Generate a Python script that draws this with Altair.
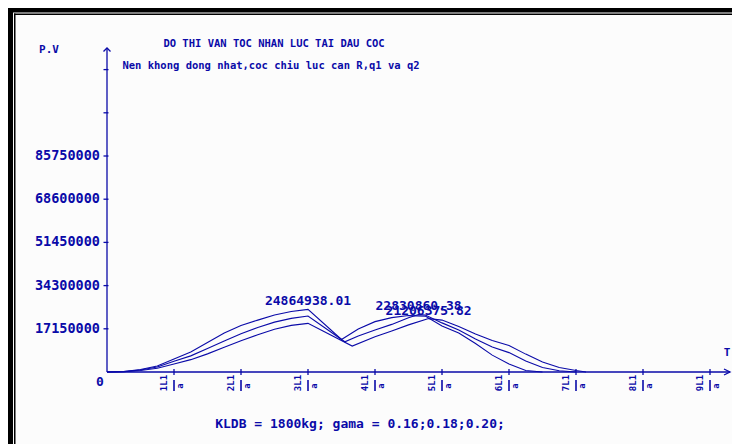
import altair as alt
import pandas as pd

# ---- data (T in units of L1/a, P.V values) ----
T_A = [0, 0.25, 0.5, 0.75, 1.0, 1.25, 1.5, 1.75, 2.0, 2.25, 2.5, 2.75, 3.0, 3.5, 3.75, 4.0, 4.25, 4.5, 4.75, 5.0, 5.25, 5.5, 5.75, 6.0, 6.25, 6.5]
V_A = [0, 0.2e6, 1.0e6, 2.4e6, 5.2e6, 7.9e6, 11.7e6, 15.5e6, 18.5e6, 20.6e6, 22.6e6, 24.0e6, 24864938.01, 12.9e6, 17.1e6, 20.0e6, 21.6e6, 22.4e6, 22.2e6, 18.3e6, 15.5e6, 11.3e6, 6.7e6, 3.2e6, 0.6e6, 0]

T_B = [0, 0.25, 0.5, 0.75, 1.0, 1.25, 1.5, 1.75, 2.0, 2.25, 2.5, 2.75, 3.0, 3.55, 3.75, 4.0, 4.25, 4.5, 4.65, 4.75, 5.0, 5.25, 5.5, 5.75, 6.0, 6.25, 6.5, 6.75, 7.0]
V_B = [0, 0.15e6, 0.8e6, 2.0e6, 4.3e6, 6.4e6, 9.3e6, 12.3e6, 15.2e6, 17.7e6, 19.8e6, 21.3e6, 22.2e6, 12.0e6, 14.3e6, 16.7e6, 18.9e6, 21.5e6, 22830860.38, 22.6e6, 19.5e6, 16.7e6, 13.1e6, 9.9e6, 7.7e6, 4.4e6, 1.8e6, 0.5e6, 0]

T_C = [0, 0.25, 0.5, 0.75, 1.0, 1.25, 1.5, 1.75, 2.0, 2.25, 2.5, 2.75, 3.0, 3.66, 4.0, 4.25, 4.5, 4.8, 5.0, 5.25, 5.5, 5.75, 6.0, 6.25, 6.5, 6.75, 7.0, 7.15]
V_C = [0, 0.1e6, 0.6e6, 1.5e6, 3.2e6, 4.9e6, 7.2e6, 9.8e6, 12.4e6, 14.8e6, 17.0e6, 18.5e6, 19.3e6, 10.3e6, 14.0e6, 16.3e6, 18.7e6, 21206375.82, 20.6e6, 18.1e6, 15.1e6, 12.5e6, 10.5e6, 7.1e6, 4.0e6, 1.8e6, 0.6e6, 0]

SERIES = ["gama 0.16", "gama 0.18", "gama 0.20"]
PEAK_LABELS = ["24864938.01", "22830860.38", "21206375.82"]

Y_TICK_VALUES = [17150000, 34300000, 51450000, 68600000, 85750000, 102900000, 120050000]
Y_TICK_LABELS = ["17150000", "34300000", "51450000", "68600000", "85750000", "", ""]
X_TICK_VALUES = [1, 2, 3, 4, 5, 6, 7, 8, 9]
X_TICK_LABELS = ["1L1", "2L1", "3L1", "4L1", "5L1", "6L1", "7L1", "8L1", "9L1"]

TITLE = "DO THI VAN TOC NHAN LUC TAI DAU COC"
SUBTITLE = "Nen khong dong nhat,coc chiu luc can R,q1 va q2"
FOOTER = "KLDB = 1800kg; gama = 0.16;0.18;0.20;"

# ---- layout helpers ----
W, H = 724, 436
PX_T = 67.0                 # pixels per L1/a
PX_V = 43.2 / 17150000.0    # pixels per unit of P.V
X0, Y0 = 99.0, 364.0        # origin inside the chart
def dt(px): return px / PX_T
def dv(px): return px / PX_V

XDOM = [-X0 / PX_T, (W - X0) / PX_T]
YDOM = [(Y0 - H) / PX_V, Y0 / PX_V]
BLUE = "#0a0aa8"
FONT = "DejaVu Sans Mono"

xs = alt.Scale(domain=XDOM, nice=False, zero=False)
ys = alt.Scale(domain=YDOM, nice=False, zero=False)
X = lambda f: alt.X(f, type="quantitative", scale=xs, axis=None)
Y = lambda f: alt.Y(f, type="quantitative", scale=ys, axis=None)

rows = []
for name, ts, vs in zip(SERIES, [T_A, T_B, T_C], [V_A, V_B, V_C]):
    for i, (t, v) in enumerate(zip(ts, vs)):
        rows.append({"s": name, "t": t, "v": v, "o": i})
curves_df = pd.DataFrame(rows)

peaks = []
for name, ts, vs, lab in zip(SERIES, [T_A, T_B, T_C], [V_A, V_B, V_C], PEAK_LABELS):
    i = max(range(len(vs)), key=lambda k: vs[k])
    peaks.append({"t": ts[i], "v": vs[i], "label": lab})
peaks_df = pd.DataFrame(peaks)

curves = alt.Chart(curves_df).mark_line(color=BLUE, strokeWidth=1.1).encode(
    x=X("t"), y=Y("v"), detail="s:N", order="o:Q")

peak_text = alt.Chart(peaks_df).mark_text(
    font=FONT, fontWeight="bold", fontSize=13, color=BLUE, baseline="bottom", dy=-1
).encode(x=X("t"), y=Y("v"), text="label:N")

# axes
y_top = dv(372 - 48)
x_end = dt(730 - 107)
axes_df = pd.DataFrame([
    {"g": "y", "t": 0, "v": 0, "o": 0}, {"g": "y", "t": 0, "v": y_top, "o": 1},
    {"g": "x", "t": 0, "v": 0, "o": 0}, {"g": "x", "t": x_end, "v": 0, "o": 1},
    {"g": "ya", "t": -dt(3.5), "v": y_top - dv(3.5), "o": 0}, {"g": "ya", "t": 0, "v": y_top, "o": 1},
    {"g": "ya", "t": dt(3.5), "v": y_top - dv(3.5), "o": 2},
    {"g": "xa", "t": x_end - dt(6), "v": dv(3), "o": 0}, {"g": "xa", "t": x_end, "v": 0, "o": 1},
    {"g": "xa", "t": x_end - dt(6), "v": -dv(3), "o": 2},
])
axes = alt.Chart(axes_df).mark_line(color=BLUE, strokeWidth=1.3).encode(
    x=X("t"), y=Y("v"), detail="g:N", order="o:Q")

ytick_df = pd.DataFrame({"v": Y_TICK_VALUES, "lab": Y_TICK_LABELS,
                         "t1": [-dt(3.5)] * 7, "t2": [dt(1.5)] * 7, "tl": [-dt(7)] * 7})
yticks = alt.Chart(ytick_df).mark_rule(color=BLUE, strokeWidth=1.3).encode(
    x=X("t1"), x2="t2", y=Y("v"))
ylabels = alt.Chart(ytick_df).mark_text(
    font=FONT, fontWeight="bold", fontSize=13.5, color=BLUE, align="right", baseline="middle"
).encode(x=X("tl"), y=Y("v"), text="lab:N")

xtick_df = pd.DataFrame({"t": X_TICK_VALUES, "lab": X_TICK_LABELS})
xtick_df["v1"] = dv(3)
xtick_df["v2"] = -dv(3)
xtick_df["b1"] = -dv(8)
xtick_df["b2"] = -dv(19)
xtick_df["tl"] = xtick_df["t"] - dt(10)
xtick_df["vl"] = -dv(11)
xtick_df["ta"] = xtick_df["t"] + dt(5.5)
xtick_df["va"] = -dv(14)
xtick_df["a"] = "a"
xticks = alt.Chart(xtick_df).mark_rule(color=BLUE, strokeWidth=1.3).encode(
    x=X("t"), y=Y("v1"), y2="v2")
xbars = alt.Chart(xtick_df).mark_rule(color=BLUE, strokeWidth=1.6).encode(
    x=X("t"), y=Y("b1"), y2="b2")
xlabels = alt.Chart(xtick_df).mark_text(
    font=FONT, fontWeight="bold", fontSize=9, color=BLUE, angle=270, align="center", baseline="middle"
).encode(x=X("tl"), y=Y("vl"), text="lab:N")
xa = alt.Chart(xtick_df).mark_text(
    font=FONT, fontWeight="bold", fontSize=9, color=BLUE, angle=270, align="center", baseline="middle"
).encode(x=X("ta"), y=Y("va"), text="a:N")

ann_df = pd.DataFrame([
    {"t": dt(274 - 107), "v": dv(372 - 44), "txt": TITLE, "s": 10.5},
    {"t": dt(271 - 107), "v": dv(372 - 66), "txt": SUBTITLE, "s": 10.5},
    {"t": dt(49 - 107), "v": dv(372 - 50), "txt": "P.V", "s": 11},
    {"t": dt(727 - 107), "v": dv(372 - 353), "txt": "T", "s": 11},
    {"t": dt(100 - 107), "v": dv(372 - 382), "txt": "0", "s": 13},
    {"t": dt(360 - 107), "v": dv(372 - 424), "txt": FOOTER, "s": 13},
])
ann = alt.Chart(ann_df).mark_text(
    font=FONT, fontWeight="bold", color=BLUE, align="center", baseline="middle"
).encode(x=X("t"), y=Y("v"), text="txt:N", size=alt.Size("s:Q", scale=None, legend=None))

# frame (double black line, top and left)
frame_df = pd.DataFrame({"k": [0]})
def frect(x1, x2, y1, y2):
    return alt.Chart(frame_df).mark_rect(color="black").encode(
        x=alt.value(x1), x2=alt.value(x2), y=alt.value(y1), y2=alt.value(y2))
frame = (frect(0, 5, 0, H) + frect(0, W, 0, 4.5) +
         frect(6, 7.5, 5.5, H) + frect(6, W, 5.5, 7))

chart = alt.layer(
    frame, curves, axes, yticks, ylabels, xticks, xbars, xlabels, xa, peak_text, ann
).properties(
    width=W, height=H, autosize=alt.AutoSizeParams(type="none"), padding=0,
    background="#fcfcfc"
).configure_view(strokeWidth=0)

chart.save("out.html", embed_options={"renderer": "svg", "actions": False})
